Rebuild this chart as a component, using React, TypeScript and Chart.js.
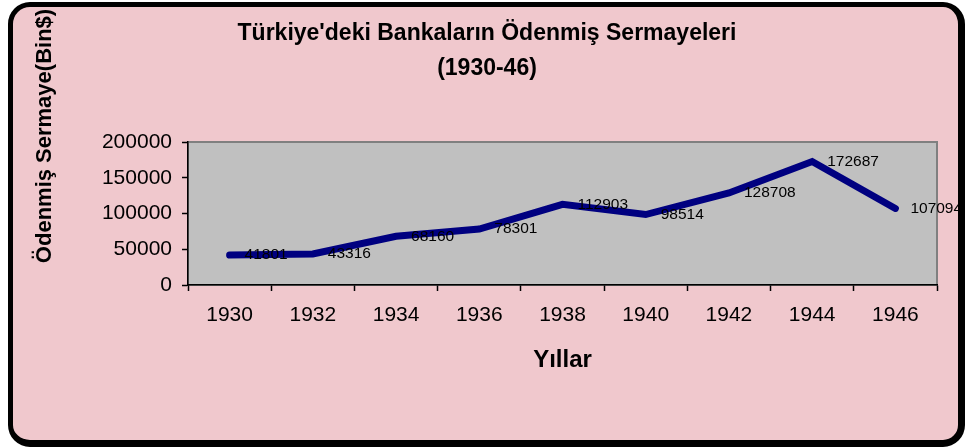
import React, { useEffect, useRef } from "react";
import { Chart, registerables } from "chart.js";

Chart.register(...registerables);

const years = ["1930", "1932", "1934", "1936", "1938", "1940", "1942", "1944", "1946"];
const capital = [41801, 43316, 68160, 78301, 112903, 98514, 128708, 172687, 107094];
const titleLines = ["Türkiye'deki Bankaların Ödenmiş Sermayeleri", "(1930-46)"];
const yTitle = "Ödenmiş Sermaye(Bin$)";
const xTitle = "Yıllar";
const yMin = 0;
const yMax = 200000;
const yStep = 50000;

const FONT = "'Liberation Sans', Arial, sans-serif";

const plotBgPlugin = {
  id: "plotBg",
  beforeDraw(chart: any) {
    const { ctx, chartArea } = chart;
    if (!chartArea) return;
    ctx.save();
    ctx.fillStyle = "#c0c0c0";
    ctx.fillRect(chartArea.left, chartArea.top, chartArea.right - chartArea.left, chartArea.bottom - chartArea.top);
    ctx.strokeStyle = "#808080";
    ctx.lineWidth = 2;
    ctx.strokeRect(chartArea.left, chartArea.top, chartArea.right - chartArea.left, chartArea.bottom - chartArea.top);
    ctx.restore();
  },
};

const titlesPlugin = {
  id: "titles",
  afterDraw(chart: any) {
    const { ctx } = chart;
    ctx.save();
    ctx.fillStyle = "#000";
    ctx.textAlign = "center";
    ctx.textBaseline = "middle";
    ctx.font = `bold 23px ${FONT}`;
    ctx.fillText(titleLines[0], 487, 34);
    ctx.fillText(titleLines[1], 487, 68.5);
    ctx.translate(45, 136);
    ctx.rotate(-Math.PI / 2);
    ctx.font = `bold 22px ${FONT}`;
    ctx.fillText(yTitle, 0, 0);
    ctx.restore();
  },
};

const dataLabelPlugin = {
  id: "dataLabels",
  afterDatasetsDraw(chart: any) {
    const { ctx } = chart;
    const meta = chart.getDatasetMeta(0);
    const data = chart.data.datasets[0].data;
    ctx.save();
    ctx.fillStyle = "#000";
    ctx.font = `15.5px ${FONT}`;
    ctx.textAlign = "left";
    ctx.textBaseline = "middle";
    meta.data.forEach((pt: any, i: number) => {
      ctx.fillText(String(data[i]), pt.x + 15, pt.y);
    });
    ctx.restore();
  },
};

export default function App() {
  const ref = useRef<HTMLCanvasElement | null>(null);

  useEffect(() => {
    if (!ref.current) return;
    const chart = new Chart(ref.current, {
      type: "line",
      data: {
        labels: years,
        datasets: [
          {
            data: capital,
            borderColor: "#000080",
            backgroundColor: "#000080",
            borderWidth: 7,
            pointRadius: 0,
            borderCapStyle: "round",
            borderJoinStyle: "miter",
            tension: 0,
            fill: false,
          },
        ],
      },
      options: {
        responsive: false,
        animation: false,
        devicePixelRatio: 1,
        layout: { padding: { top: 142, right: 30, bottom: 0, left: 0 } },
        plugins: {
          legend: { display: false },
          title: { display: false },
          tooltip: { enabled: false },
        },
        scales: {
          x: {
            type: "category",
            offset: true,
            grid: {
              display: true,
              offset: true,
              drawOnChartArea: false,
              drawTicks: true,
              tickLength: 6,
              tickColor: "#000",
              tickWidth: 1.5,
            },
            border: { display: true, color: "#000", width: 1.5 },
            ticks: {
              color: "#000",
              font: { family: FONT, size: 21 },
              padding: 12,
              maxRotation: 0,
              autoSkip: false,
            },
            title: {
              display: true,
              text: xTitle,
              color: "#000",
              font: { family: FONT, size: 24, weight: "bold" },
              padding: { top: 0, bottom: 73.6 },
            },
            afterFit(scale: any) {
              scale.height = 163;
            },
          },
          y: {
            min: yMin,
            max: yMax,
            grid: {
              display: true,
              drawOnChartArea: false,
              drawTicks: true,
              tickLength: 6,
              tickColor: "#000",
              tickWidth: 1.5,
            },
            border: { display: true, color: "#000", width: 1.5 },
            ticks: {
              stepSize: yStep,
              color: "#000",
              font: { family: FONT, size: 21 },
              padding: 10,
              callback: (v: any) => String(v),
            },
            afterFit(scale: any) {
              scale.width = 188;
            },
          },
        },
      },
      plugins: [plotBgPlugin, titlesPlugin, dataLabelPlugin],
    } as any);
    return () => chart.destroy();
  }, []);

  return (
    <div style={{ position: "fixed", left: 0, top: 0, width: 967, height: 448, background: "#fff" }}>
      <div
        style={{
          position: "absolute",
          left: 8,
          top: 2,
          width: 957,
          height: 445,
          boxSizing: "border-box",
          borderStyle: "solid",
          borderColor: "#000",
          borderWidth: "5px 7px 7px 5px",
          borderRadius: 22,
          background: "#f0c8cd",
        }}
      />
      <canvas
        ref={ref}
        width={967}
        height={448}
        style={{ position: "absolute", left: 0, top: 0, width: 967, height: 448 }}
      />
    </div>
  );
}
